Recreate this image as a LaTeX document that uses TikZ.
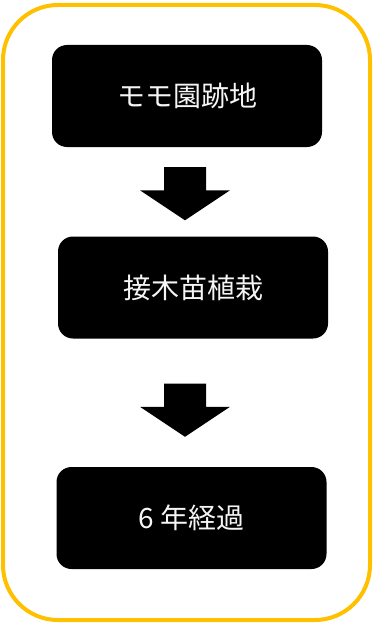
\documentclass[tikz,border=0pt]{standalone}
\usepackage{fontspec}
\newfontfamily\jpfont{Noto Sans CJK JP}
\usetikzlibrary{calc}
\definecolor{frameorange}{HTML}{FFC000}
\tikzset{stage/.style={fill=black, rounded corners=15pt, minimum width=270pt, minimum height=102pt, inner sep=0pt, text=white!92!gray, font=\fontsize{28}{32}\jpfont}}

\begin{document}
\begin{tikzpicture}[x=1pt,y=-1pt]
\useasboundingbox (0,0) rectangle (373,623);
% Draw the outer frame
\draw[frameorange, line width=4pt, rounded corners=55pt] (3,5) rectangle (370,620);

% Draw the three stages
\node[stage] (park) at (187,96) {モモ園跡地};
\node[stage] (graft) at (193,287.5) {接木苗植栽};
\node[stage] (years) at (191.5,518) {6 年経過};

% Block arrows between the stages
\coordinate (a1top) at ($(park.south)+(-2,20)$);
\coordinate (a1tip) at ($(graft.north)+(-8,-16)$);
\fill ($(a1top)+(-21,0)$) -- ($(a1top)+(21,0)$) -- ($(a1tip)+(21,-30)$) -- ($(a1tip)+(45,-30)$) -- (a1tip) -- ($(a1tip)+(-45,-30)$) -- ($(a1tip)+(-21,-30)$) -- cycle;

\coordinate (a2top) at ($(graft.south)+(-8,45)$);
\coordinate (a2tip) at ($(years.north)+(-6.5,-30)$);
\fill ($(a2top)+(-21,0)$) -- ($(a2top)+(21,0)$) -- ($(a2tip)+(21,-30)$) -- ($(a2tip)+(45,-30)$) -- (a2tip) -- ($(a2tip)+(-45,-30)$) -- ($(a2tip)+(-21,-30)$) -- cycle;
\end{tikzpicture}
\end{document}
